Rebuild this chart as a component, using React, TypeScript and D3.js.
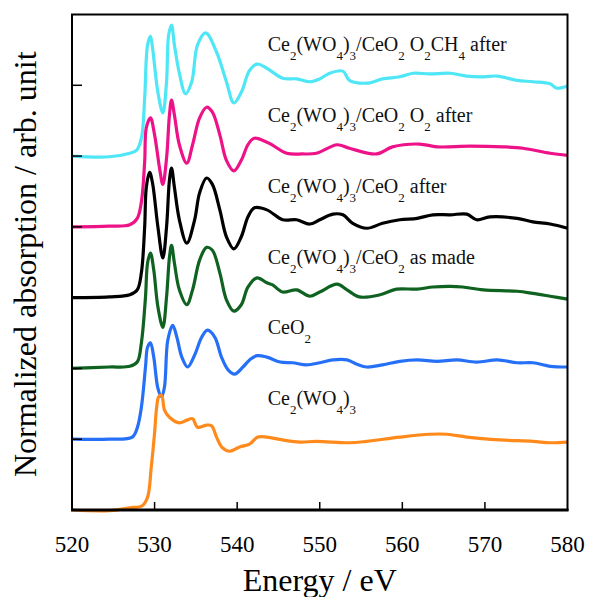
import React from 'react'
import * as d3 from 'd3'

// energy ticks and the six spectra (energy eV, normalized absorption), stacked by 1 unit
const energyTicks = [520, 530, 540, 550, 560, 570, 580]
const offsetTicks = [1, 2, 3, 4, 5, 6]

const o2ch4After: [number, number][] = [
  [520, 0], [524.5, -0.01], [527, 0.04], [527.8, 0.08], [528.4, 0.25], [528.8, 0.82], [529.15, 1.57],
  [529.5, 1.69], [529.75, 1.53], [530.4, 0.9], [531, 0.61], [531.45, 1.05], [531.7, 1.71], [532.05, 1.85],
  [532.4, 1.57], [533, 1.17], [533.75, 0.88], [534.5, 1.05], [535.2, 1.57], [536.2, 1.74], [537.5, 1.47],
  [538.7, 1.05], [539.6, 0.75], [540.5, 0.9], [541.5, 1.21], [542.4, 1.3], [543.6, 1.24], [545.5, 1.1],
  [547.2, 1.09], [548.8, 1.05], [550, 1.09], [551.2, 1.17], [552.8, 1.2], [553.6, 1.07], [555.7, 1.03],
  [557.6, 1.09], [559.7, 1.12], [561.3, 1.17], [563.3, 1.16], [565.8, 1.17], [567.8, 1.13], [569.8, 1.12],
  [571.5, 1.13], [573.9, 1.07], [575.8, 1.05], [577.9, 1.02], [578.7, 0.96], [580, 0.99],
]
const o2After: [number, number][] = [
  [520, 0], [524.5, 0.01], [527, 0.03], [527.9, 0.12], [528.4, 0.35], [528.8, 0.92], [529, 1.4],
  [529.5, 1.54], [530, 1.3], [530.6, 0.83], [531, 0.6], [531.45, 0.97], [531.8, 1.58], [532.05, 1.79],
  [532.4, 1.58], [533, 1.16], [533.9, 0.9], [534.6, 1.16], [535.45, 1.54], [536.3, 1.69], [537, 1.62],
  [537.9, 1.3], [538.7, 0.94], [539.6, 0.79], [540.5, 0.94], [541.3, 1.16], [542, 1.25], [542.4, 1.25],
  [543.9, 1.18], [546, 1.04], [547.9, 1.03], [549.6, 1.04], [552.1, 1.16], [553.6, 1.11], [556.9, 1.03],
  [558.8, 1.13], [562.1, 1.17], [564.2, 1.13], [568.2, 1.14], [572.2, 1.13], [574.6, 1.11], [577.9, 1.04],
  [580, 1.01],
]
const after: [number, number][] = [
  [520, 0], [524.5, 0.01], [527, 0.04], [527.9, 0.11], [528.4, 0.35], [528.8, 1.0], [529, 1.56],
  [529.4, 1.77], [529.75, 1.62], [530.4, 1.0], [531, 0.56], [531.45, 1.0], [531.8, 1.66], [532.05, 1.83],
  [532.4, 1.56], [533, 1.1], [533.9, 0.77], [534.85, 1.1], [535.45, 1.48], [536.3, 1.69], [537, 1.6],
  [537.9, 1.24], [538.7, 0.86], [539.6, 0.69], [540.5, 0.86], [541.3, 1.14], [542.1, 1.27], [543.6, 1.24],
  [545.5, 1.1], [547.2, 1.1], [548.8, 1.04], [550, 1.1], [551.6, 1.18], [552.8, 1.17], [554, 1.05],
  [555.7, 0.98], [557.6, 1.05], [559.7, 1.1], [561.8, 1.12], [563.7, 1.17], [565.8, 1.17], [567.8, 1.18],
  [569, 1.1], [570.6, 1.14], [573.9, 1.12], [575.8, 1.07], [577.9, 1.04], [580, 0.98],
]
const asMade: [number, number][] = [
  [520, 0], [524.5, 0.02], [527, 0.03], [527.9, 0.09], [528.4, 0.36], [528.9, 1.01], [529.15, 1.49],
  [529.5, 1.63], [529.9, 1.39], [530.4, 0.87], [531, 0.58], [531.45, 1.01], [531.8, 1.57], [532.05, 1.74],
  [532.4, 1.49], [533, 1.11], [533.9, 0.9], [534.6, 1.11], [535.45, 1.53], [536.3, 1.71], [537, 1.67],
  [537.9, 1.35], [538.7, 0.97], [539.6, 0.81], [540.5, 0.9], [541.3, 1.15], [542.4, 1.28], [543.6, 1.21],
  [544.3, 1.18], [545.5, 1.08], [547.2, 1.11], [548.8, 1.02], [550, 1.08], [552.1, 1.19], [553.3, 1.11],
  [554.8, 1.01], [557.3, 1.04], [559.3, 1.12], [561.8, 1.12], [563.7, 1.15], [565.8, 1.16], [567.3, 1.15],
  [569.8, 1.11], [573.9, 1.09], [575.8, 1.06], [577.9, 1.02], [580, 0.98],
]
const ceo2: [number, number][] = [
  [520, 0], [524.5, 0], [527.3, 0.03], [527.9, 0.16], [528.4, 0.45], [528.9, 1.02], [529.15, 1.3],
  [529.5, 1.36], [529.9, 1.16], [530.4, 0.72], [530.85, 0.6], [531.2, 0.74], [531.6, 1.4], [532.2, 1.61],
  [532.7, 1.44], [533.3, 1.16], [534, 1.02], [534.85, 1.19], [535.7, 1.44], [536.4, 1.54], [537.3, 1.44],
  [538.1, 1.16], [538.9, 0.98], [539.7, 0.92], [540.7, 1.02], [541.5, 1.12], [542.4, 1.18], [543.6, 1.16],
  [545.2, 1.09], [546.7, 1.08], [548.4, 1.05], [550, 1.08], [551.6, 1.12], [553.3, 1.12], [554.5, 1.06],
  [555.7, 1.02], [557.6, 1.05], [559.7, 1.1], [561.8, 1.12], [564.2, 1.1], [566.6, 1.12], [569, 1.09],
  [571.5, 1.12], [573.9, 1.08], [575.8, 1.08], [577.9, 1.03], [580, 1.02],
]
const ce2wo43: [number, number][] = [
  [520, 0], [524.5, -0.01], [527, 0.03], [528.5, 0.06], [529.15, 0.18], [529.6, 0.61], [530, 1.09],
  [530.25, 1.45], [530.5, 1.6], [530.85, 1.62], [531.2, 1.41], [531.8, 1.31], [533, 1.23], [533.9, 1.27],
  [534.6, 1.29], [535.2, 1.17], [536.3, 1.2], [536.9, 1.19], [537.5, 1.03], [538.2, 0.88], [539.1, 0.83],
  [540.3, 0.89], [541.5, 0.93], [542.5, 1.03], [543.6, 1.03], [545.5, 0.99], [547.6, 0.96], [549.6, 0.97],
  [553.6, 0.95], [555.7, 0.97], [559.7, 1.03], [563.3, 1.07], [565.4, 1.07], [567.8, 1.03], [571.8, 0.99],
  [575.8, 0.97], [577.9, 0.95], [580, 0.96],
]

const seriesNames = [
  'Ce_2(WO_4)_3/CeO_2 O_2CH_4 after',
  'Ce_2(WO_4)_3/CeO_2 O_2 after',
  'Ce_2(WO_4)_3/CeO_2 after',
  'Ce_2(WO_4)_3/CeO_2 as made',
  'CeO_2',
  'Ce_2(WO_4)_3',
]
const seriesData = [o2ch4After, o2After, after, asMade, ceo2, ce2wo43]
const seriesOffsets = [5, 4, 3, 2, 1, 0]
const colors = ['#4fe6f6', '#ee1289', '#000000', '#0f6220', '#2670f8', '#ff8a1c']

const W = 590
const H = 597
const left = 72
const right = 567.5
const top = 14.5
const bottom = 510
const font = 'Liberation Serif, serif'

function Label({ text, x, y }: { text: string; x: number; y: number }) {
  const parts = text.split(/(_\d)/).filter(p => p !== '')
  return (
    <text x={x} y={y} style={{ fontFamily: font }} fontSize={20} fill="#111">
      {parts.map((p, i) => p.startsWith('_')
        ? <tspan key={i} fontSize={13} dy={9}>{p.slice(1)}</tspan>
        : <tspan key={i} dy={i > 0 && parts[i - 1].startsWith('_') ? -9 : 0}>{p}</tspan>)}
    </text>
  )
}

export default function App() {
  const x = d3.scaleLinear().domain([520, 580]).range([left, right])
  const y = d3.scaleLinear().domain([0, 7]).range([bottom, top])

  return (
    <div>
      <style>{'body{margin:0}'}</style>
      <svg width={W} height={H} style={{ display: 'block', background: '#fff', fontFamily: font }}>
        {seriesData.map((d, i) => {
          const line = d3.line<[number, number]>()
            .x(p => x(p[0]))
            .y(p => y(p[1] + seriesOffsets[i]))
            .curve(d3.curveCatmullRom.alpha(0.5))
          return <path key={i} d={line(d) || ''} fill="none" stroke={colors[i]}
            strokeWidth={3.2} strokeLinejoin="round" />
        })}

        {seriesNames.map((n, i) => (
          <Label key={n} text={n} x={x(543.7)} y={y(seriesOffsets[i] + 1.48)} />
        ))}

        {/* frame and inward ticks */}
        <rect x={left} y={top} width={right - left} height={bottom - top} fill="none" stroke="#000" strokeWidth={2} />
        <line x1={left - 1} x2={right + 1} y1={bottom} y2={bottom} stroke="#000" strokeWidth={3} />
        {energyTicks.slice(1, -1).map(t => (
          <line key={t} x1={x(t)} x2={x(t)} y1={bottom} y2={bottom - 8} stroke="#000" strokeWidth={1.5} />
        ))}
        {offsetTicks.map(t => (
          <line key={t} x1={left} x2={left + 10} y1={y(t)} y2={y(t)} stroke="#000" strokeWidth={1.5} />
        ))}
        {energyTicks.map(t => (
          <text key={t} x={x(t)} y={552} textAnchor="middle" style={{ fontFamily: font }} fontSize={23} fill="#000">{t}</text>
        ))}

        <text x={(left + right) / 2} y={591} textAnchor="middle" style={{ fontFamily: font }} fontSize={32} fill="#000">
          Energy / eV
        </text>
        <text transform={`translate(36,${(top + bottom) / 2 + 2}) rotate(-90)`} textAnchor="middle"
          style={{ fontFamily: font }} fontSize={32} fill="#000">
          Normalized absorption / arb. unit
        </text>
      </svg>
    </div>
  )
}
